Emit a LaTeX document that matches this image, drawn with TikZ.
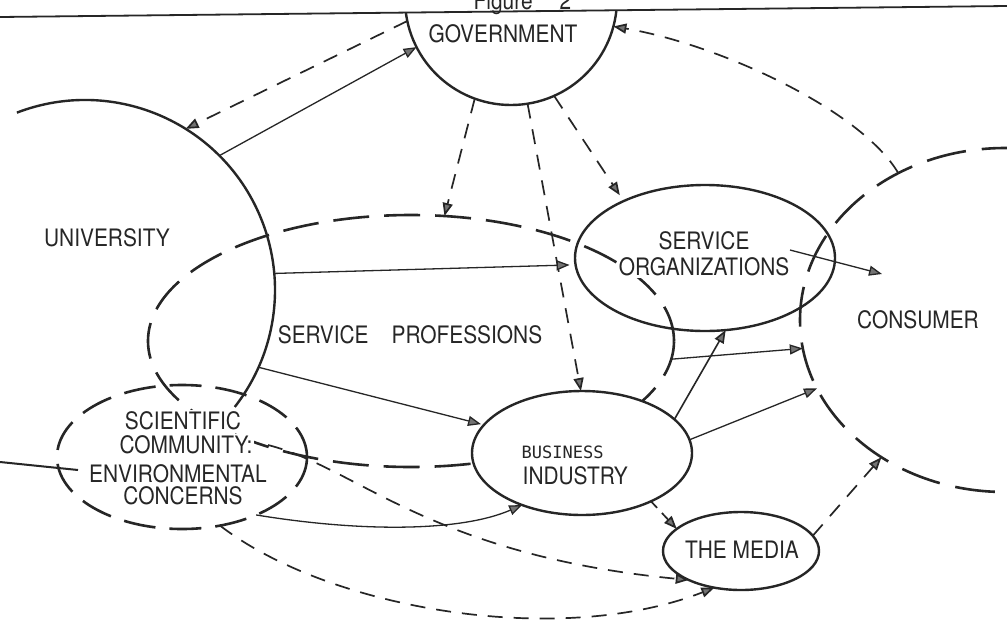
\documentclass[tikz,border=0pt]{standalone}
\usepackage{fontspec}
\setmainfont{TeX Gyre Heros}[FakeStretch=0.87]
\newfontfamily\typefont{DejaVu Sans Mono}
\usetikzlibrary{shapes.geometric,arrows.meta}

\begin{document}
\begin{tikzpicture}[x=1pt,y=-1pt,
  ink/.style={draw=black!85},
  outline/.style={ink, line width=2.4pt},
  dashedrim/.style={ink, line width=2.6pt, dash pattern=on 36pt off 15pt},
  blob/.style={ellipse, inner sep=0pt, outer sep=0pt},
  lbl/.style={font=\fontsize{24}{25}\selectfont, inner sep=1.5pt, fill=white, text=black!85},
  flow/.style={ink, line width=1.3pt, -{Triangle[length=13pt,width=10pt,fill=black!55]}},
  dflow/.style={ink, line width=1.7pt, dash pattern=on 15pt off 11pt, -{Triangle[length=13pt,width=10pt,fill=black!55]}},
]
\fill[white] (0,0) rectangle (1007,622);
\useasboundingbox (0,0) rectangle (1007,622);

% the overlapping domains
\node[blob, dashedrim, minimum width=526pt, minimum height=252pt] (sp) at (411,341) {};
\node[blob, dashedrim, dash pattern=on 32pt off 14pt, minimum width=250pt, minimum height=144pt] (sc) at (182,457) {};
\node[blob, dashedrim, dash pattern=on 40pt off 16pt, minimum width=410pt, minimum height=344pt] (cons) at (1005,320) {};
\node[blob, outline, minimum width=260pt, minimum height=146pt] (so) at (705,258) {};
\node[blob, outline, fill=white, minimum width=220pt, minimum height=124pt] (bi) at (582,453) {};
\node[blob, outline, minimum width=156pt, minimum height=78pt] (media) at (741,551) {};

% university: only part of its rim is drawn
\node[circle, inner sep=0pt, outer sep=0pt, minimum size=380pt] (uni) at (85,290) {};
\draw[outline] (uni.111) arc[start angle=-111, end angle=38, radius=190];

% government hangs from the title rule
\begin{scope}
  \clip (0,17) -- (1007,6) -- (1007,622) -- (0,622) -- cycle;
  \node[circle, outline, inner sep=0pt, outer sep=0pt, minimum size=212pt] (gov) at (511,-1) {};
\end{scope}
\draw[ink, line width=1.8pt] (0,17) -- (1007,6);
\draw[ink, line width=2pt] (0,462) -- (78,470);

% labels
\node[lbl, anchor=base west, fill=none] (fig) at (472,9) {Figure\hspace{27pt}2};
\node[lbl] (govL) at (503,34) {GOVERNMENT};
\node[lbl] (uniL) at (107,238) {UNIVERSITY};
\node[lbl] (spL) at (410,335) {SERVICE\hspace{23pt}PROFESSIONS};
\node[lbl, align=center, font=\fontsize{24}{26}\selectfont] (soL) at (704,254) {SERVICE\\ORGANIZATIONS};
\node[lbl] (consL) at (918,320) {CONSUMER};
\node[lbl] (scL1) at (183,421) {SCIENTIFIC};
\node[lbl] (scL2) at (186,445) {COMMUNITY:};
\node[lbl] (scL3) at (178,474) {ENVIRONMENTAL};
\node[lbl] (scL4) at (183,496) {CONCERNS};
\node[lbl, anchor=west, font=\typefont\fontsize{17}{18}\selectfont] (bizL) at (520,452) {BUSINESS};
\node[lbl, anchor=west] (indL) at (521,476) {INDUSTRY};
\node[lbl] (mediaL) at (742,550) {THE MEDIA};

% flows between the domains
\draw[dflow] (gov.192) -- (uni.58);
\draw[flow] (uni.45) -- (gov.207);
\draw[dflow] (cons.126) .. controls +(-37,-63) and +(106,18) .. (gov.345);
\draw[dflow] (gov.250) -- (sp.75);
\draw[dflow] (gov.279) -- (bi.91);
\draw[dflow, shorten >=7pt] (gov.294) -- (so.145);
\draw[flow, shorten >=6pt] (uni.5) -- (so.183);
\draw[flow, shorten >=3pt] (uni.336) -- (bi.164);
\draw[flow] (sc.322) .. controls (360,532) and (460,532) .. (bi.221);
\draw[dflow] ([shift={(86,-12)}]sc.center) .. controls (358,468) and (430,555) .. (media.209);
\draw[dflow] (sc.299) .. controls (330,610) and (560,648) .. (media.234);
\draw[flow, line width=1.6pt] (bi.20) -- (so.286);
\draw[flow] (sp.356) -- (cons.188);
\draw[flow] (bi.7) -- (cons.200);
\draw[flow] ([shift={(85,-8)}]so.center) -- ([shift={(-123,-46)}]cons.center);
\draw[dflow, dash pattern=on 9pt off 7pt] (bi.325) -- (media.161);
\draw[dflow] (media.12) -- (cons.228);
\end{tikzpicture}
\end{document}
